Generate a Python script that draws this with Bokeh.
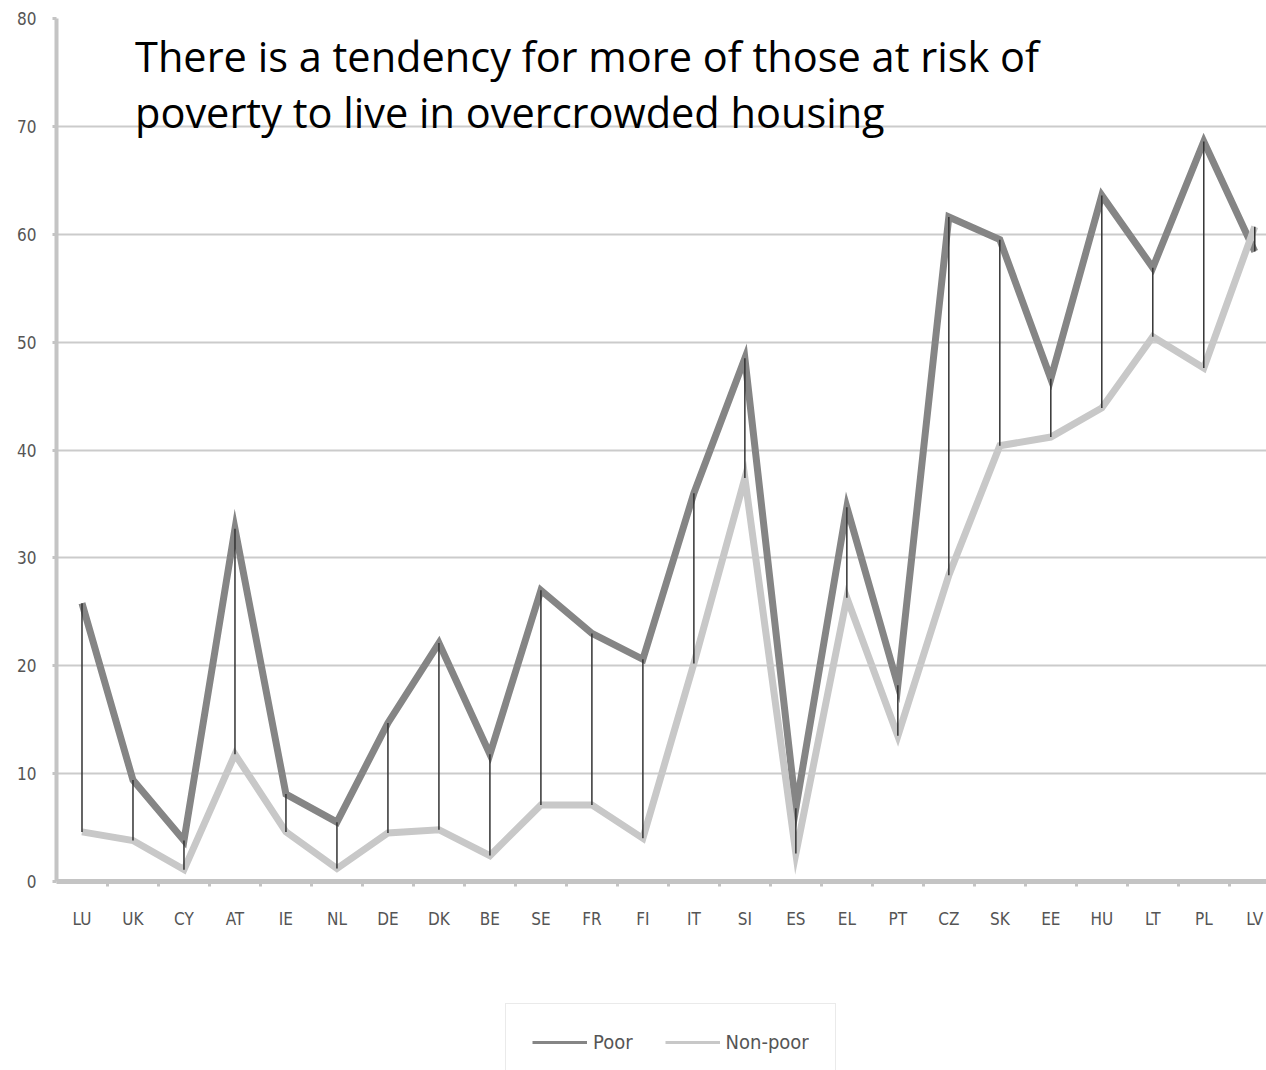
from bokeh.plotting import figure
from bokeh.layouts import column
from bokeh.models import (Range1d, FixedTicker, Label, Legend, LegendItem,
                          ColumnDataSource)
from bokeh.embed import file_html
from bokeh.resources import INLINE

# Share of people living in overcrowded housing, by poverty status (%)
countries = ["LU", "UK", "CY", "AT", "IE", "NL", "DE", "DK", "BE", "SE", "FR", "FI",
             "IT", "SI", "ES", "EL", "PT", "CZ", "SK", "EE", "HU", "LT", "PL", "LV"]
poor = [25.8, 9.4, 3.8, 32.7, 8.1, 5.5, 14.7, 22.1, 11.8, 27.0, 23.0, 20.6,
        36.0, 48.5, 6.8, 34.7, 18.2, 61.6, 59.5, 46.6, 63.6, 56.9, 68.6, 58.4]
non_poor = [4.6, 3.8, 1.1, 11.8, 4.6, 1.2, 4.5, 4.8, 2.4, 7.1, 7.1, 4.0,
            20.2, 37.4, 2.6, 26.3, 13.5, 28.4, 40.4, 41.2, 43.9, 50.5, 47.6, 60.7]
y_ticks = [0, 10, 20, 30, 40, 50, 60, 70, 80]

idx = list(range(len(countries)))
src = ColumnDataSource(dict(x=idx, poor=poor, non_poor=non_poor,
                            lo=[min(a, b) for a, b in zip(poor, non_poor)],
                            hi=[max(a, b) for a, b in zip(poor, non_poor)]))

TICK_FONT = "'Liberation Sans Narrow', 'DejaVu Sans Condensed', sans-serif"
AXIS_GREY = "#c4c4c4"
POOR_COLOR = "#858585"
NONPOOR_COLOR = "#c8c8c8"

p = figure(width=1266, height=990, output_backend="svg", toolbar_location=None,
           x_range=Range1d(-0.5, 23.23), y_range=Range1d(0, 80),
           min_border_left=56, min_border_right=0, min_border_top=18,
           min_border_bottom=109)
p.outline_line_color = None
p.background_fill_color = "white"
p.border_fill_color = "white"

# grid
p.xgrid.grid_line_color = None
p.ygrid.ticker = FixedTicker(ticks=y_ticks)
p.ygrid.grid_line_color = "#cbcbcb"
p.ygrid.grid_line_width = 2

# y axis
p.yaxis.ticker = FixedTicker(ticks=y_ticks)
p.yaxis.axis_line_color = AXIS_GREY
p.yaxis.axis_line_width = 4
p.yaxis.major_tick_line_color = AXIS_GREY
p.yaxis.major_tick_line_width = 3
p.yaxis.major_tick_out = 4
p.yaxis.major_tick_in = 0
p.yaxis.minor_tick_line_color = None
p.yaxis.major_label_standoff = 16
p.yaxis.major_label_text_font = TICK_FONT
p.yaxis.major_label_text_font_size = "17px"
p.yaxis.major_label_text_color = "#555555"

# x axis: labels at category centres, small ticks between categories
p.xaxis.ticker = FixedTicker(ticks=idx, minor_ticks=[i + 0.5 for i in idx])
p.xaxis.major_label_overrides = {i: c for i, c in zip(idx, countries)}
p.xaxis.axis_line_color = AXIS_GREY
p.xaxis.axis_line_width = 5
p.xaxis.major_tick_line_color = None
p.xaxis.minor_tick_line_color = AXIS_GREY
p.xaxis.minor_tick_line_width = 3
p.xaxis.minor_tick_out = 5
p.xaxis.minor_tick_in = 0
p.xaxis.major_label_standoff = 21
p.xaxis.major_label_text_font = TICK_FONT
p.xaxis.major_label_text_font_size = "17px"
p.xaxis.major_label_text_color = "#555555"

# series
p.line("x", "poor", source=src, line_color=POOR_COLOR, line_width=7,
       line_join="miter")
p.line("x", "non_poor", source=src, line_color=NONPOOR_COLOR, line_width=7,
       line_join="miter")
p.segment(x0="x", y0="lo", x1="x", y1="hi", source=src,
          line_color="#333333", line_width=1.5)

# headline text
for line_text, y in [("There is a tendency for more of those at risk of", 76.5),
                     ("poverty to live in overcrowded housing", 71.35)]:
    p.add_layout(Label(x=1.04, y=y, text=line_text, text_font="Open Sans",
                       text_font_size="41.5px", text_color="black",
                       text_baseline="alphabetic", text_align="left"))

# legend strip beneath the chart (its frame lines up with the chart frame)
lg = figure(width=1266, height=80, output_backend="svg", toolbar_location=None,
            x_range=Range1d(0, 1), y_range=Range1d(0, 1),
            x_axis_location=None, y_axis_location=None,
            min_border_left=0, min_border_right=0, min_border_top=0,
            min_border_bottom=0)
lg.outline_line_color = None
lg.grid.grid_line_color = None
lg.border_fill_color = "white"
nan = float("nan")
k_poor = lg.line([nan], [nan], line_color=POOR_COLOR, line_width=3)
k_non = lg.line([nan], [nan], line_color=NONPOOR_COLOR, line_width=3)
legend = Legend(items=[LegendItem(label="Poor", renderers=[k_poor]),
                       LegendItem(label="Non-poor", renderers=[k_non])],
                orientation="horizontal", location=(449, -11),
                glyph_width=55, glyph_height=20, label_height=20,
                label_standoff=6, spacing=32, padding=26, margin=0,
                label_text_font=TICK_FONT, label_text_font_size="20px",
                label_text_color="#555555",
                border_line_color="#d6d6d6", border_line_width=1.5,
                background_fill_color="white", background_fill_alpha=1)
lg.add_layout(legend, "center")

layout = column(p, lg, spacing=0)
open("out.html", "w").write(file_html(layout, INLINE))
